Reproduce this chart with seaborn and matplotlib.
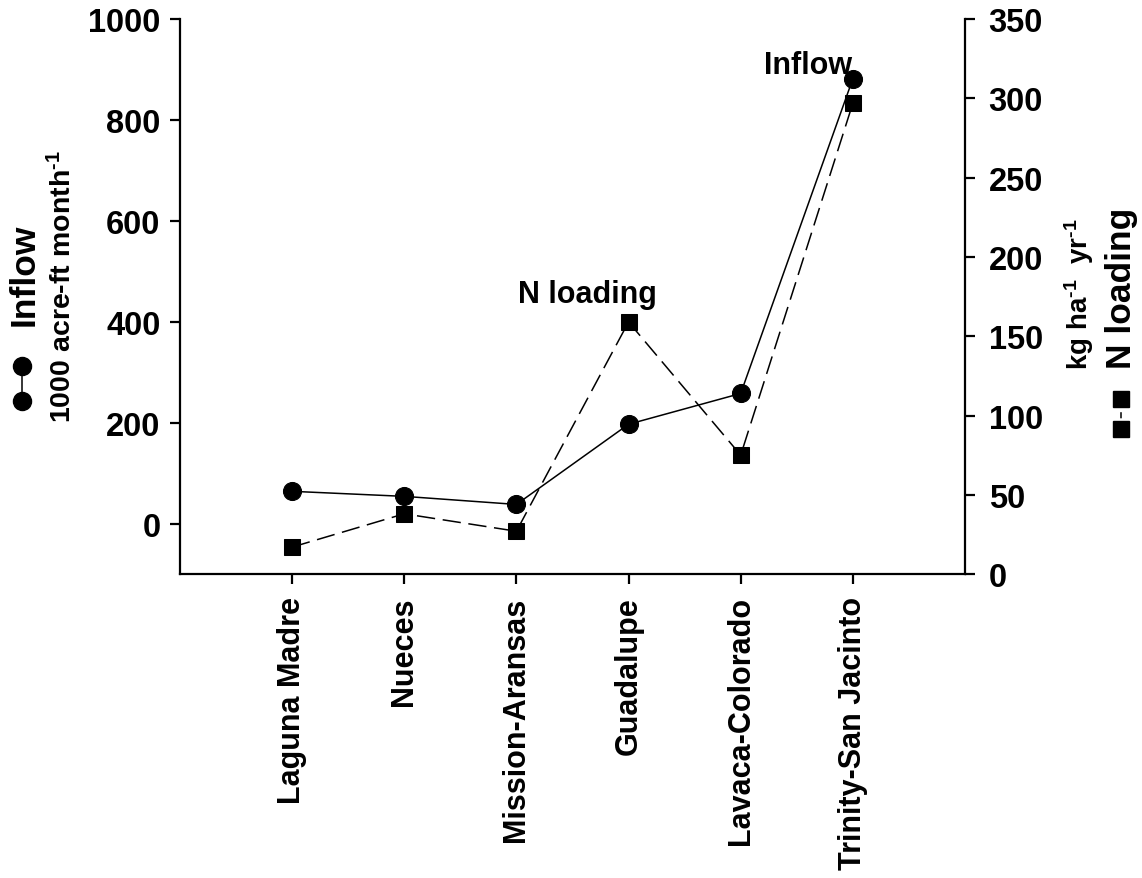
import numpy as np
import pandas as pd
import matplotlib
matplotlib.use("Agg")
import matplotlib.pyplot as plt
from matplotlib.lines import Line2D
import seaborn as sns

# values
estuaries = ["Laguna Madre", "Nueces", "Mission-Aransas", "Guadalupe",
             "Lavaca-Colorado", "Trinity-San Jacinto"]
inflow = [64, 54, 38, 197, 258, 882]          # 1000 acre-ft month-1
n_loading = [17, 38, 27, 159, 75, 297]        # kg ha-1 yr-1

left_ticks = [0, 200, 400, 600, 800, 1000]
right_ticks = [0, 50, 100, 150, 200, 250, 300, 350]

sns.set_style("ticks")
plt.rcParams["font.family"] = ["Liberation Sans", "DejaVu Sans"]
plt.rcParams["font.weight"] = "bold"
plt.rcParams["text.color"] = "black"
plt.rcParams["xtick.color"] = "black"
plt.rcParams["ytick.color"] = "black"
plt.rcParams["mathtext.fontset"] = "custom"
plt.rcParams["mathtext.rm"] = "Liberation Sans:bold"
plt.rcParams["mathtext.bf"] = "Liberation Sans:bold"
plt.rcParams["mathtext.it"] = "Liberation Sans:bold"
plt.rcParams["mathtext.default"] = "bf"

df = pd.DataFrame({"pos": np.arange(len(estuaries)), "inflow": inflow,
                   "n_loading": n_loading})

fig = plt.figure(figsize=(11.42, 8.79), dpi=100)
ax = fig.add_axes([0.1576, 0.3458, 0.8450 - 0.1576, 0.977 - 0.3458])
ax2 = ax.twinx()

sns.lineplot(data=df, x="pos", y="inflow", ax=ax, color="black", lw=1.1,
             marker="o", markersize=13, markeredgecolor="black")
sns.lineplot(data=df, x="pos", y="n_loading", ax=ax2, color="black", lw=1.1,
             marker="s", markersize=11, markeredgecolor="black",
             linestyle=(0, (12, 5)))

ax.set_xlim(-1, 6)
ax.set_ylim(-100, 1000)
ax2.set_ylim(0, 350)
ax.set_xticks(df["pos"])
ax.set_xticklabels(estuaries, rotation=90, fontsize=22, fontweight="bold")
ax.set_yticks(left_ticks)
ax.set_yticklabels([str(t) for t in left_ticks], fontsize=23.5, fontweight="bold")
ax2.set_yticks(right_ticks)
ax2.set_yticklabels([str(t) for t in right_ticks], fontsize=23.5, fontweight="bold")
ax.set_xlabel("")
ax.set_ylabel("")
ax2.set_ylabel("")

for a in (ax, ax2):
    a.spines["top"].set_visible(False)
    for s in ("left", "right", "bottom"):
        a.spines[s].set_linewidth(1.6)
        a.spines[s].set_color("black")
    a.tick_params(width=1.6, length=7, color="black")
ax.tick_params(axis="y", pad=7)
ax.tick_params(axis="x", pad=9)
ax2.tick_params(axis="y", pad=10)
ax.spines["right"].set_visible(False)
ax2.spines["left"].set_visible(False)
ax2.spines["bottom"].set_visible(False)

# in-plot labels
ax2.text(2.63, 167, "N loading", ha="center", va="bottom", fontsize=22,
         fontweight="bold")
ax.text(4.6, 880, "Inflow", ha="center", va="bottom", fontsize=22,
        fontweight="bold")

# left axis title with legend glyph
fig.text(0.021, 1 - 275 / 879, "Inflow", rotation=90, ha="center",
         va="center", fontsize=25.5, fontweight="bold")
fig.text(0.055, 1 - 287 / 879, r"1000 acre-ft month$^{\text{-1}}$",
         rotation=90, ha="center", va="center", fontsize=20.5,
         fontweight="bold")
fig.add_artist(Line2D([0.019, 0.019], [1 - 402 / 879, 1 - 367 / 879],
                      transform=fig.transFigure, color="black", lw=1.1,
                      marker="o", markersize=13))

# right axis title with legend glyph
fig.text(0.945, 1 - 294 / 879, r"kg ha$^{\text{-1}}$  yr$^{\text{-1}}$",
         rotation=90, ha="center", va="center", fontsize=20,
         fontweight="bold")
fig.text(0.982, 1 - 288 / 879, "N loading", rotation=90, ha="center",
         va="center", fontsize=25.5, fontweight="bold")
fig.add_artist(Line2D([0.982, 0.982], [1 - 430 / 879, 1 - 400 / 879],
                      transform=fig.transFigure, color="black", lw=1.1,
                      marker="s", markersize=11, linestyle=(0, (4, 3))))

fig.savefig("out.png", dpi=100)
